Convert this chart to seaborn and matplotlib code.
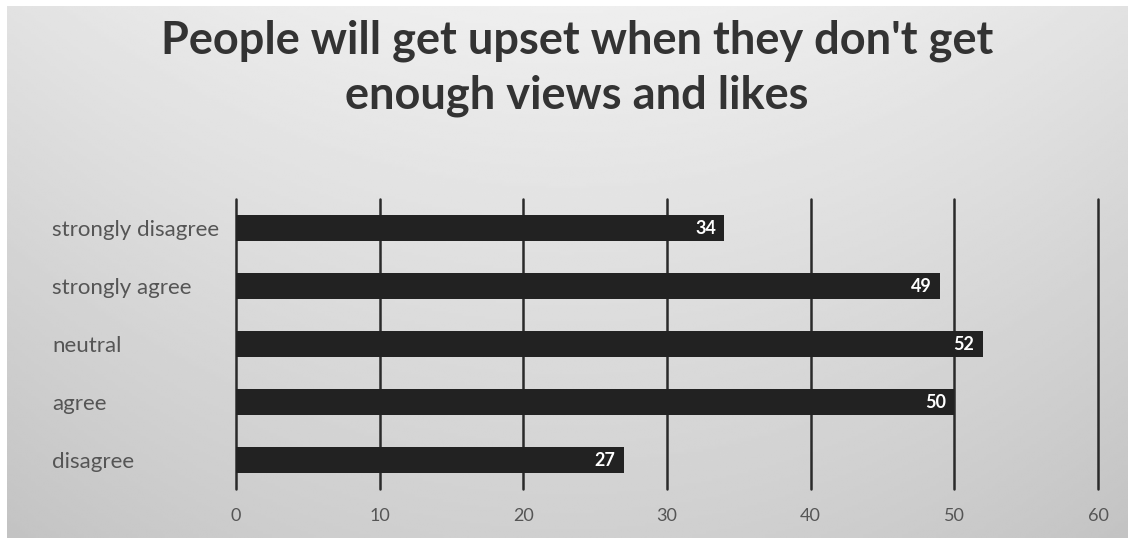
import numpy as np
import matplotlib
matplotlib.use("Agg")
import matplotlib.pyplot as plt
import seaborn as sns
import pandas as pd

categories = ["strongly disagree", "strongly agree", "neutral", "agree", "disagree"]
counts = [34, 49, 52, 50, 27]
x_ticks = [0, 10, 20, 30, 40, 50, 60]

title = "People will get upset when they don't get\nenough views and likes"

df = pd.DataFrame({"response": categories, "count": counts})

sns.set_theme(style="white")
plt.rcParams["font.family"] = ["Lato", "DejaVu Sans"]

W, H = 1132, 540
fig = plt.figure(figsize=(W / 100, H / 100), dpi=100)
fig.patch.set_facecolor("white")

# gray gradient panel behind the chart
bg = fig.add_axes([7 / W, 1 - 538 / H, (1128 - 7) / W, (538 - 6) / H], zorder=0)
yy, xx = np.mgrid[0:1:200j, 0:1:400j]
shade = 0.935 - 0.12 * yy - 0.05 * ((xx - 0.5) * 2) ** 2
bg.imshow(shade, cmap="gray", vmin=0, vmax=1, aspect="auto",
          extent=[0, 1, 1, 0], interpolation="bilinear")
bg.set_axis_off()

ax = fig.add_axes([236 / W, 1 - 489 / H, (1098 - 236) / W, (489 - 199) / H], zorder=1)
ax.set_facecolor("none")

sns.barplot(data=df, y="response", x="count", orient="h", color="#222222",
            width=0.45, saturation=1, linewidth=0, ax=ax, zorder=3)

for patch, v in zip(ax.patches, counts):
    y = patch.get_y() + patch.get_height() / 2
    ax.text(v - 0.6, y, str(v), ha="right", va="center", color="white",
            fontsize=13, fontweight="bold", zorder=4)

ax.set_xlim(0, 60)
ax.set_xticks(x_ticks)
ax.set_xticklabels([str(t) for t in x_ticks], color="#555555", fontsize=13)
ax.tick_params(axis="x", length=0, pad=14)
ax.tick_params(axis="y", length=0, pad=0)
ax.set_yticks(range(len(categories)))
ax.set_yticklabels(categories, color="#555555", fontsize=16, ha="left")
for lbl in ax.get_yticklabels():
    lbl.set_x((52 - 236) / (1098 - 236))
ax.set_ylim(len(categories) - 0.5, -0.5)

for t in x_ticks:
    ax.axvline(t, color="#2a2a2a", lw=1.8, zorder=1, clip_on=False)
for s in ax.spines.values():
    s.set_visible(False)
ax.set_xlabel("")
ax.set_ylabel("")

fig.text(577 / W, 1 - 68 / H, title, ha="center", va="center", fontsize=32.5,
         fontweight="bold", color="#333333", linespacing=1.38)

fig.savefig("out.png", dpi=100)
